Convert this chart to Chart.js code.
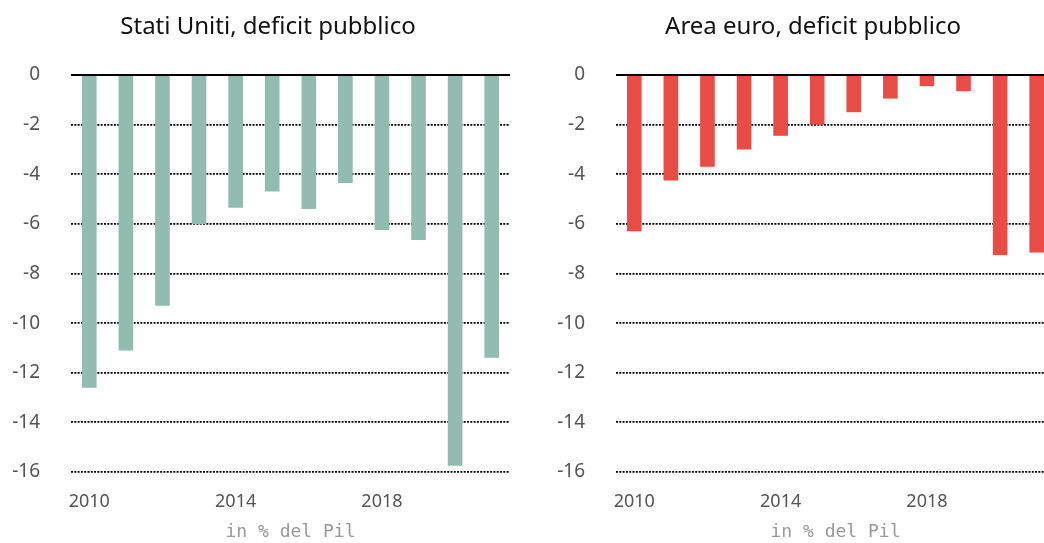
<!DOCTYPE html>
<html lang="it">
<head>
<meta charset="UTF-8">
<title>Deficit pubblico</title>
<script src="https://cdn.jsdelivr.net/npm/chart.js"></script>
<style>
    body {
        margin: 0;
        width: 1044px;
        height: 543px;
        overflow: hidden;
        background: #fff;
        position: relative;
    }

    .box {
        position: absolute;
        top: 0;
        width: 536px;
        height: 543px;
    }
</style>
</head>
<body>

<div class="box" style="left:0"><canvas id="usChart" width="536" height="543"></canvas></div>
<div class="box" style="left:545px"><canvas id="euChart" width="536" height="543"></canvas></div>

<script>
    // anni e valori (in % del Pil)
    const years = ['2010', '2011', '2012', '2013', '2014', '2015', '2016', '2017', '2018', '2019', '2020', '2021'];
    const shownYears = ['2010', '2014', '2018'];
    const usDeficit = [-12.6, -11.1, -9.3, -6.0, -5.35, -4.7, -5.4, -4.35, -6.25, -6.65, -15.75, -11.4];
    const euDeficit = [-6.3, -4.25, -3.7, -3.0, -2.45, -2.0, -1.5, -0.95, -0.45, -0.65, -7.25, -7.15];
    const yTicks = [0, -2, -4, -6, -8, -10, -12, -14, -16];

    const sansFont = "'Noto Sans', 'Open Sans', sans-serif";

    function makeChart(id, title, values, color) {
        const ctx = document.getElementById(id).getContext('2d');
        return new Chart(ctx, {
            type: 'bar',
            data: {
                labels: years,
                datasets: [{
                    data: values,
                    backgroundColor: color,
                    borderWidth: 0,
                    barPercentage: 0.4,
                    categoryPercentage: 1
                }]
            },
            options: {
                responsive: false,
                animation: false,
                layout: { padding: 0 },
                plugins: {
                    legend: { display: false },
                    tooltip: { enabled: false },
                    title: {
                        display: true,
                        text: title,
                        color: '#111',
                        font: { family: sansFont, size: 24, weight: 'normal' },
                        padding: { top: 12.6, bottom: 33.6 }
                    }
                },
                scales: {
                    x: {
                        afterFit: function (scale) {
                            scale.height = 71;
                        },
                        grid: { display: false },
                        border: { display: false },
                        ticks: {
                            autoSkip: false,
                            maxRotation: 0,
                            color: '#555',
                            padding: 11,
                            font: { family: sansFont, size: 18 },
                            callback: function (val, i) {
                                const lab = years[i];
                                return shownYears.includes(lab) ? lab : '';
                            }
                        },
                        title: {
                            display: true,
                            text: 'in % del Pil',
                            color: '#999',
                            font: { family: "'DejaVu Sans Mono', 'Liberation Mono', monospace", size: 18 },
                            padding: { top: 2, bottom: 0 }
                        }
                    },
                    y: {
                        min: -16,
                        max: 0,
                        afterBuildTicks: function (scale) {
                            scale.ticks = yTicks.map(v => ({ value: v }));
                        },
                        afterFit: function (scale) {
                            scale.width = 71;
                        },
                        grid: {
                            drawTicks: false,
                            color: '#000',
                            lineWidth: ctx => ctx.tick && ctx.tick.value === 0 ? 2 : 1.8
                        },
                        border: {
                            display: false,
                            dash: ctx => ctx.tick && ctx.tick.value === 0 ? [] : [2, 1.3]
                        },
                        ticks: {
                            color: '#555',
                            padding: 31,
                            font: { family: sansFont, size: 19 }
                        }
                    },
                    // spazio vuoto a destra, per centrare il titolo come nell'originale
                    spacer: {
                        type: 'linear',
                        position: 'right',
                        min: -16,
                        max: 0,
                        afterFit: function (scale) {
                            scale.width = 26;
                        },
                        grid: { display: false },
                        border: { display: false },
                        ticks: { display: false }
                    }
                }
            }
        });
    }

    makeChart('usChart', 'Stati Uniti, deficit pubblico', usDeficit, '#92bcb0');
    makeChart('euChart', 'Area euro, deficit pubblico', euDeficit, '#e84c44');
</script>

</body>
</html>
